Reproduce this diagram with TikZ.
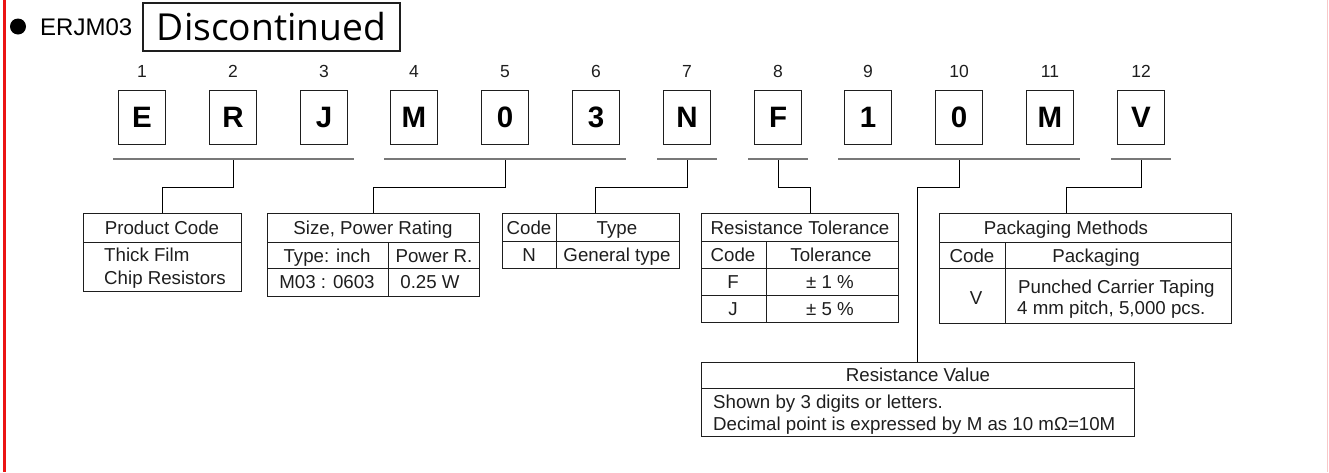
\documentclass[tikz,border=0pt]{standalone}
\usepackage{fontspec}
\setmainfont{Liberation Sans}
\newfontfamily\discfont{Open Sans}
\usetikzlibrary{calc}
\definecolor{edgered}{RGB}{235,20,20}
\definecolor{edgepink}{RGB}{248,200,200}
\definecolor{ink}{RGB}{30,30,30}
\definecolor{bargray}{RGB}{120,120,120}
\begin{document}
\begin{tikzpicture}[x=1pt,y=-1pt,
  letbox/.style={draw=ink, line width=1pt, minimum width=47pt, minimum height=54pt, inner sep=0pt,
    font=\fontsize{29.5}{30}\selectfont\bfseries, text height=21.1pt, text depth=0pt},
  numlbl/.style={font=\fontsize{17.5}{20}\selectfont, text=ink, inner sep=0pt, text height=12.5pt, text depth=0pt},
  barline/.style={draw=bargray, line width=2pt},
  conn/.style={draw=black, line width=1pt},
  tbl/.style={draw=ink, line width=1pt, inner sep=0pt, anchor=north west},
  tline/.style={draw=ink, line width=1pt},
  txt/.style={font=\fontsize{18.7}{21}\selectfont, text=ink, inner sep=0pt, text height=13.2pt, text depth=0pt},
  ltxt/.style={txt, anchor=west}]
\useasboundingbox (0,0) rectangle (1329,472);
% page edges
\draw[edgered, line width=3pt] (4.8,0) -- (4.8,472);
\draw[edgepink, line width=1pt] (1327,0) -- (1327,472);
% header
\fill[black] (18,26.5) circle (8);
\node[anchor=west, inner sep=0pt, font=\fontsize{24}{26}\selectfont, text height=17.2pt, text depth=0pt] (title) at (40,27) {ERJM03};
\node[draw=ink, line width=2pt, minimum width=257.6pt, minimum height=48.6pt, inner sep=0pt,
  font=\discfont\fontsize{37.2}{40}\selectfont, text height=26.7pt, text depth=0pt] (disc) at (271.5,27) {Discontinued};
% letter boxes and numbers
\foreach \i/\x/\c in {1/142/E,2/233/R,3/324/J,4/414/M,5/505/0,6/596/3,7/687/N,8/778/F,9/868/1,10/959/0,11/1050/M,12/1141/V}{
  \node[letbox] (b\i) at (\x,117) {\c};
  \node[numlbl] (n\i) at (\x,71) {\i};
}
% group bars
\coordinate (g1a) at (113,159); \coordinate (g1b) at (354,159); \coordinate (g1m) at (233,159);
\coordinate (g2a) at (384,159); \coordinate (g2b) at (626,159); \coordinate (g2m) at (505,159);
\coordinate (g3a) at (657,159); \coordinate (g3b) at (717,159); \coordinate (g3m) at (687,159);
\coordinate (g4a) at (748,159); \coordinate (g4b) at (808,159); \coordinate (g4m) at (778,159);
\coordinate (g5a) at (838,159); \coordinate (g5b) at (1080,159); \coordinate (g5m) at (959,159);
\coordinate (g6a) at (1111,159); \coordinate (g6b) at (1171,159); \coordinate (g6m) at (1141,159);
% tables
\node[tbl, minimum width=158pt, minimum height=78pt] (pc) at (83,213) {};
\node[tbl, minimum width=212pt, minimum height=83pt] (sz) at (267,213) {};
\node[tbl, minimum width=177pt, minimum height=55pt] (ct) at (502,213) {};
\node[tbl, minimum width=197pt, minimum height=109pt] (tol) at (701,213) {};
\node[tbl, minimum width=292pt, minimum height=110pt] (pk) at (939,213) {};
\node[tbl, minimum width=433pt, minimum height=74pt] (rv) at (701,362) {};
% connectors
\draw[conn] (g1m) -- ++(0,28) -| (pc.north);
\draw[conn] (g2m) -- ++(0,28) -| (sz.north);
\draw[conn] (g3m) -- ++(0,28) -| ([xshift=4.5pt]ct.north);
\draw[conn] (g4m) -- ++(0,28) -| ([xshift=10.5pt]tol.north);
\draw[conn] (g5m) -- ++(0,28) -| ([xshift=-0.5pt]rv.north);
\draw[conn] (g6m) -- ++(0,28) -| ([xshift=-19pt]pk.north);
\foreach \g in {1,...,6}{ \draw[barline] (g\g a) -- (g\g b); }
% Product Code table
\draw[tline] (83,242) -- (241,242);
\node[txt] (pc1) at (162,228) {Product Code};
\node[ltxt] (pc2) at (104,255) {Thick Film};
\node[ltxt] (pc3) at (104,278) {Chip Resistors};
% Size table
\draw[tline] (267,242) -- (479,242);
\draw[tline] (267,268) -- (479,268);
\draw[tline] (388,242) -- (388,296);
\node[txt] (sz1) at (373,228) {Size, Power Rating};
\node[txt] (sz2) at (327,256) {Type: inch};
\node[txt] (sz3) at (434,256) {Power R.};
\node[txt] (sz4) at (327,282) {M03 : 0603};
\node[txt] (sz5) at (430,282) {0.25 W};
% Code/Type table
\draw[tline] (502,241) -- (679,241);
\draw[tline] (556,213) -- (556,268);
\node[txt] (ct1) at (529,228) {Code};
\node[txt] (ct2) at (617,228) {Type};
\node[txt] (ct3) at (529,255) {N};
\node[txt] (ct4) at (617,255) {General type};
% Tolerance table
\draw[tline] (701,241) -- (898,241);
\draw[tline] (701,268) -- (898,268);
\draw[tline] (701,295) -- (898,295);
\draw[tline] (766,241) -- (766,322);
\node[txt] (tl1) at (800,228) {Resistance Tolerance};
\node[txt] (tl2) at (733,255) {Code};
\node[txt] (tl3) at (831,255) {Tolerance};
\node[txt] (tl4) at (733,282) {F};
\node[txt] (tl5) at (830,282) {± 1 \%};
\node[txt] (tl6) at (733,309) {J};
\node[txt] (tl7) at (830,309) {± 5 \%};
% Packaging table
\draw[tline] (939,242) -- (1231,242);
\draw[tline] (939,268) -- (1231,268);
\draw[tline] (1005,242) -- (1005,323);
\node[txt] (pk1) at (1066,228) {Packaging Methods};
\node[txt] (pk2) at (972,256) {Code};
\node[txt] (pk3) at (1096,256) {Packaging};
\node[txt] (pk4) at (976,298) {V};
\node[ltxt] (pk5) at (1018,287) {Punched Carrier Taping};
\node[ltxt] (pk6) at (1017,308) {4 mm pitch, 5,000 pcs.};
% Resistance Value table
\draw[tline] (701,388) -- (1134,388);
\node[txt] (rv1) at (918,375) {Resistance Value};
\node[ltxt] (rv2) at (713,402) {Shown by 3 digits or letters.};
\node[ltxt] (rv3) at (713,424) {Decimal point is expressed by M as 10 mΩ=10M};
\end{tikzpicture}
\end{document}
